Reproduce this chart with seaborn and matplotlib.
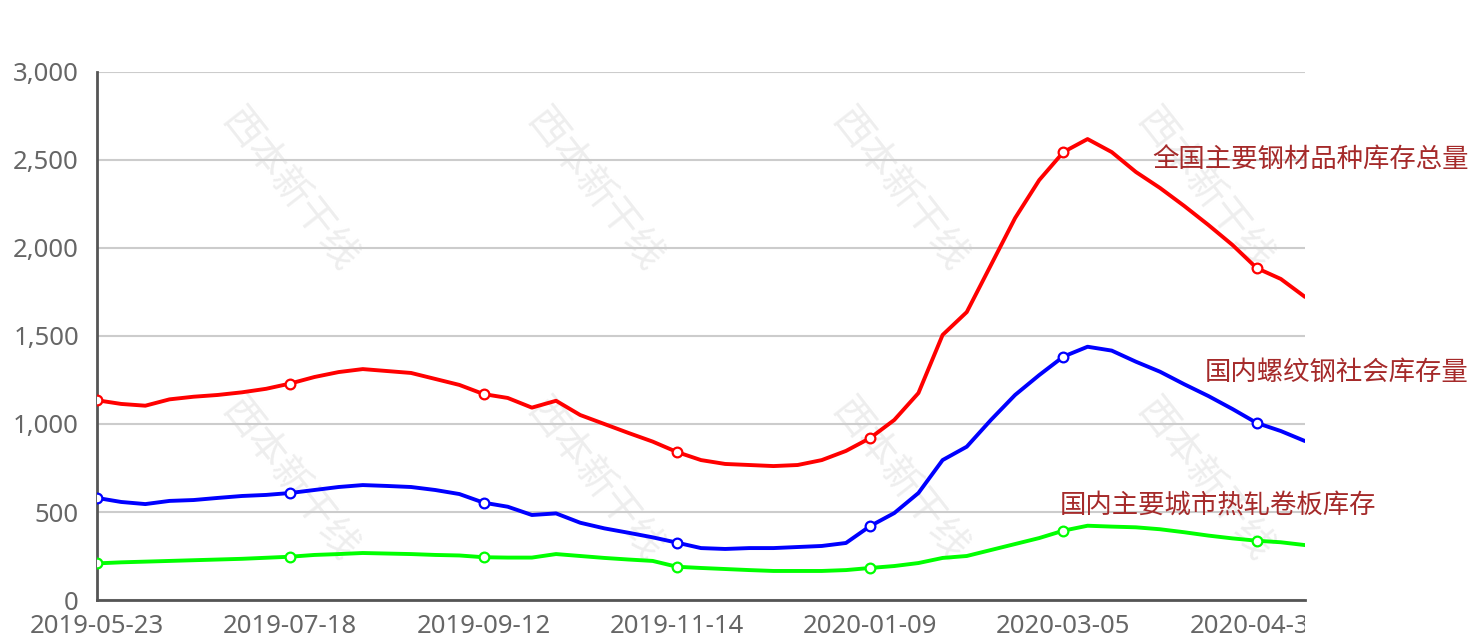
import matplotlib
matplotlib.use("Agg")
import matplotlib.pyplot as plt
import seaborn as sns
import pandas as pd
from matplotlib.transforms import Bbox, TransformedBbox

dates = [
    "2019-05-23", "2019-05-30", "2019-06-06", "2019-06-13", "2019-06-20", "2019-06-27",
    "2019-07-04", "2019-07-11", "2019-07-18", "2019-07-25", "2019-08-01", "2019-08-08",
    "2019-08-15", "2019-08-22", "2019-08-29", "2019-09-05", "2019-09-12", "2019-09-19",
    "2019-09-26", "2019-10-10", "2019-10-17", "2019-10-24", "2019-10-31", "2019-11-07",
    "2019-11-14", "2019-11-21", "2019-11-28", "2019-12-05", "2019-12-12", "2019-12-19",
    "2019-12-26", "2020-01-02", "2020-01-09", "2020-01-16", "2020-01-23", "2020-01-30",
    "2020-02-06", "2020-02-13", "2020-02-20", "2020-02-27", "2020-03-05", "2020-03-12",
    "2020-03-19", "2020-03-26", "2020-04-02", "2020-04-09", "2020-04-16", "2020-04-23",
    "2020-04-30", "2020-05-07", "2020-05-14",
]

total_steel = [
    1135, 1114, 1104, 1140, 1155, 1165, 1180, 1200, 1230, 1267, 1295, 1312,
    1301, 1290, 1256, 1222, 1170, 1148, 1093, 1132, 1051, 1000, 949, 900,
    841, 795, 773, 767, 761, 767, 795, 847, 920, 1023, 1176, 1506,
    1636, 1903, 2170, 2386, 2545, 2619, 2545, 2432, 2341, 2239, 2131, 2017,
    1886, 1824, 1722,
]
rebar = [
    580, 557, 545, 563, 568, 580, 591, 597, 608, 625, 642, 653,
    648, 642, 625, 602, 553, 530, 483, 492, 439, 407, 382, 356,
    326, 295, 290, 295, 295, 301, 307, 324, 420, 494, 608, 795,
    871, 1023, 1165, 1278, 1383, 1439, 1417, 1354, 1297, 1226, 1159, 1085,
    1006, 960, 903,
]
hot_coil = [
    208, 214, 218, 222, 226, 230, 234, 240, 246, 256, 261, 267,
    264, 261, 256, 253, 243, 241, 241, 261, 250, 239, 230, 222,
    189, 182, 176, 170, 165, 165, 165, 170, 182, 193, 210, 239,
    250, 284, 318, 352, 394, 422, 417, 413, 402, 385, 366, 350,
    337, 328, 312,
]

series_names = ["全国主要钢材品种库存总量", "国内螺纹钢社会库存量", "国内主要城市热轧卷板库存"]
series_colors = ["#ff0000", "#0000ff", "#00ff00"]
y_ticks = [0, 500, 1000, 1500, 2000, 2500, 3000]

rows = []
for name, vals in zip(series_names, [total_steel, rebar, hot_coil]):
    for i, v in enumerate(vals):
        rows.append({"idx": i, "date": dates[i], "value": v, "series": name})
df = pd.DataFrame(rows)

sns.set_theme(style="white")
plt.rcParams["font.family"] = ["Noto Sans", "Noto Sans CJK SC", "DejaVu Sans"]

W, H = 1476, 641
fig = plt.figure(figsize=(W / 100, H / 100), dpi=100)
ax = fig.add_axes([97 / W, 41 / H, (1305 - 97) / W, 528 / H])
ax.set_zorder(2)

# faint watermark text (behind the plot)
for wx in [290, 595, 900, 1205]:
    for wy in [190, 480]:
        fig.text(wx / W, 1 - wy / H, "西本新干线", fontsize=28, color="#eeeeee",
                 rotation=-52, ha="center", va="center", zorder=0,
                 family=["Noto Sans CJK SC"])

sns.lineplot(data=df, x="idx", y="value", hue="series", hue_order=series_names,
             palette=series_colors, linewidth=2.8, marker="o", markevery=8,
             markersize=7, markerfacecolor="white", markeredgewidth=1.6,
             legend=False, ax=ax, zorder=3, solid_joinstyle="round")
for ln in ax.lines:
    ln.set_markeredgecolor(ln.get_color())
    ln.set_linestyle("-")

ax.set_xlim(0, len(dates) - 1)
ax.set_ylim(0, 3000)
ax.set_yticks(y_ticks)
ax.set_yticklabels([f"{v:,}" for v in y_ticks])
xt = list(range(0, len(dates), 8))
ax.set_xticks(xt)
ax.set_xticklabels([dates[i] for i in xt])
ax.set_xlabel("")
ax.set_ylabel("")

ax.grid(axis="y", color="#cccccc", linewidth=1.5)
ax.grid(axis="x", visible=False)
for s in ["top", "right"]:
    ax.spines[s].set_visible(False)
for s in ["left", "bottom"]:
    ax.spines[s].set_color("#555555")
    ax.spines[s].set_linewidth(2)
ax.tick_params(axis="both", which="major", length=8, width=2, color="#555555",
               labelcolor="#666666", labelsize=18.5, direction="out")
ax.tick_params(axis="y", pad=5)
ax.tick_params(axis="x", pad=2)
ax.patch.set_alpha(0)

clip = TransformedBbox(Bbox([[0, 0], [1305 / W, 1]]), fig.transFigure)
for lbl in ax.get_xticklabels():
    lbl.set_clip_on(True)
    lbl.set_clip_box(clip)

label_color = "#a52a2a"
cjk = ["Noto Sans CJK SC", "DejaVu Sans"]
fig.text(1152 / W, 1 - 160 / H, series_names[0], color=label_color, fontsize=19,
         ha="left", va="center", family=cjk)
fig.text(1205 / W, 1 - 372 / H, series_names[1], color=label_color, fontsize=19,
         ha="left", va="center", family=cjk)
fig.text(1060 / W, 1 - 506 / H, series_names[2], color=label_color, fontsize=19,
         ha="left", va="center", family=cjk)

fig.savefig("out.png", dpi=100)
